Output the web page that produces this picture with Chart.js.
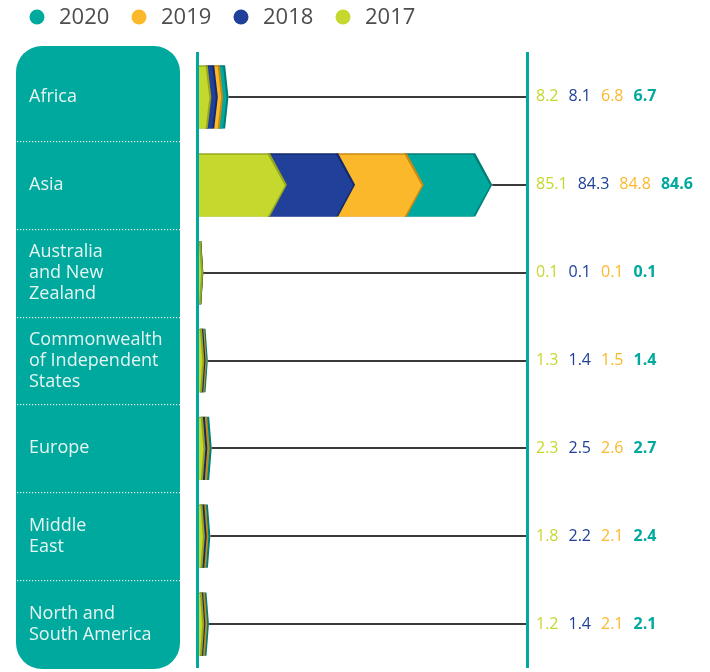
<!DOCTYPE html>
<html>
<head>
<meta charset="utf-8">
<script src="https://cdn.jsdelivr.net/npm/chart.js@4.4.1/dist/chart.umd.min.js"></script>
<style>
  html, body { margin: 0; padding: 0; background: #fff; }
</style>
</head>
<body>
<canvas id="myChart" width="710" height="672"></canvas>
<script>
'use strict';

let regions = [
  ['Africa'],
  ['Asia'],
  ['Australia', 'and New', 'Zealand'],
  ['Commonwealth', 'of Independent', 'States'],
  ['Europe'],
  ['Middle', 'East'],
  ['North and', 'South America']
];
let years = ['2017', '2018', '2019', '2020'];
let values2017 = [8.2, 85.1, 0.1, 1.3, 2.3, 1.8, 1.2];
let values2018 = [8.1, 84.3, 0.1, 1.4, 2.5, 2.2, 1.4];
let values2019 = [6.8, 84.8, 0.1, 1.5, 2.6, 2.1, 2.1];
let values2020 = [6.7, 84.6, 0.1, 1.4, 2.7, 2.4, 2.1];

let yearColors = ['#c4d82e', '#21409a', '#fbb82b', '#00a99d'];
let edgeColors = ['#97a71c', '#142a6e', '#c98a12', '#007d74'];
const teal = '#00a99d';

function tipWidth(w) {
  return Math.min(17, w * 0.25 + 2);
}

function chevronPath(ctx, left, right, top, bottom, tip) {
  let mid = (top + bottom) / 2;
  ctx.beginPath();
  ctx.moveTo(left, top);
  ctx.lineTo(right, top);
  ctx.lineTo(right + tip, mid);
  ctx.lineTo(right, bottom);
  ctx.lineTo(left, bottom);
  ctx.closePath();
}

const chevronPlugin = {
  id: 'chevrons',
  beforeDraw(chart) {
    let ctx = chart.ctx;
    let area = chart.chartArea;
    let yScale = chart.scales.y;
    ctx.save();
    // label panel
    ctx.fillStyle = teal;
    ctx.beginPath();
    ctx.roundRect(16, 46, 164, 623, 26);
    ctx.fill();
    // dotted separators
    ctx.fillStyle = 'rgba(255,255,255,0.9)';
    for (let i = 1; i < regions.length; i++) {
      let yy = Math.round((yScale.getPixelForValue(i - 1) + yScale.getPixelForValue(i)) / 2);
      for (let xx = 17; xx < 180; xx += 3) {
        ctx.fillRect(xx, yy, 1.2, 1.2);
      }
    }
    // the two vertical rules
    ctx.fillStyle = teal;
    ctx.fillRect(area.left - 3, 52, 3, area.bottom - 52);
    ctx.fillRect(area.right, 52, 3, area.bottom - 52);
    ctx.restore();
  },
  beforeDatasetDraw(chart, args) {
    let ctx = chart.ctx;
    let i = args.index;
    ctx.save();
    args.meta.data.forEach(function (bar) {
      let p = bar.getProps(['x', 'y', 'base', 'height'], true);
      let w = p.x - p.base;
      let tip = tipWidth(w);
      let top = p.y - p.height / 2;
      let bottom = p.y + p.height / 2;
      ctx.fillStyle = edgeColors[i];
      chevronPath(ctx, p.base, p.x + 2, top, bottom, tip);
      ctx.fill();
      ctx.fillStyle = yearColors[i];
      chevronPath(ctx, p.base, p.x, top + 1.5, bottom, tip);
      ctx.fill();
    });
    ctx.restore();
    return false;
  },
  afterDatasetsDraw(chart) {
    let ctx = chart.ctx;
    let area = chart.chartArea;
    let last = chart.getDatasetMeta(years.length - 1);
    ctx.save();
    // connector lines
    ctx.strokeStyle = '#3a3a3a';
    ctx.lineWidth = 2;
    last.data.forEach(function (bar) {
      let p = bar.getProps(['x', 'y', 'base'], true);
      let end = p.x + tipWidth(p.x - p.base) + 2;
      ctx.beginPath();
      ctx.moveTo(end, Math.round(p.y));
      ctx.lineTo(area.right, Math.round(p.y));
      ctx.stroke();
    });
    // value columns
    ctx.textBaseline = 'middle';
    ctx.textAlign = 'left';
    last.data.forEach(function (bar, r) {
      let y = bar.getProps(['y'], true).y;
      let x = area.right + 10;
      chart.data.datasets.forEach(function (ds, d) {
        let txt = ds.data[r].toFixed(1);
        ctx.font = (d === years.length - 1 ? '700 ' : '400 ') + '16px "Open Sans"';
        ctx.fillStyle = yearColors[d];
        ctx.fillText(txt, x, y);
        x += ctx.measureText(txt).width + 10;
      });
    });
    // legend, newest year first
    ctx.font = '400 22px "Open Sans"';
    let lx = 37;
    for (let d = years.length - 1; d >= 0; d--) {
      ctx.fillStyle = yearColors[d];
      ctx.beginPath();
      ctx.arc(lx, 17, 7.5, 0, Math.PI * 2);
      ctx.fill();
      ctx.fillStyle = '#4d4d4d';
      ctx.fillText(years[d], lx + 22, 18);
      lx += 102;
    }
    ctx.restore();
  }
};

const chartData = {
  labels: regions,
  datasets: [
    { label: years[0], data: values2017, backgroundColor: yearColors[0] },
    { label: years[1], data: values2018, backgroundColor: yearColors[1] },
    { label: years[2], data: values2019, backgroundColor: yearColors[2] },
    { label: years[3], data: values2020, backgroundColor: yearColors[3] }
  ]
};

const config = {
  type: 'bar',
  data: chartData,
  plugins: [chevronPlugin],
  options: {
    indexAxis: 'y',
    responsive: false,
    animation: false,
    events: [],
    layout: {
      padding: { top: 53, bottom: 4, left: 29, right: 184 }
    },
    datasets: {
      bar: { barPercentage: 0.72, categoryPercentage: 1 }
    },
    plugins: {
      legend: { display: false },
      tooltip: { enabled: false }
    },
    scales: {
      x: {
        stacked: true,
        display: false,
        min: 0,
        max: 404
      },
      y: {
        stacked: true,
        grid: { display: false },
        border: { display: false },
        ticks: {
          crossAlign: 'far',
          padding: 0,
          color: '#e6f5f3',
          font: { family: '"Open Sans"', size: 18, lineHeight: 1.17 }
        },
        afterFit(scale) {
          scale.width = 170;
          scale.paddingTop = 0;
          scale.paddingBottom = 0;
        }
      }
    }
  }
};

let chartCanvas = document.getElementById('myChart').getContext('2d');
const myChart = new Chart(chartCanvas, config);
</script>
</body>
</html>
